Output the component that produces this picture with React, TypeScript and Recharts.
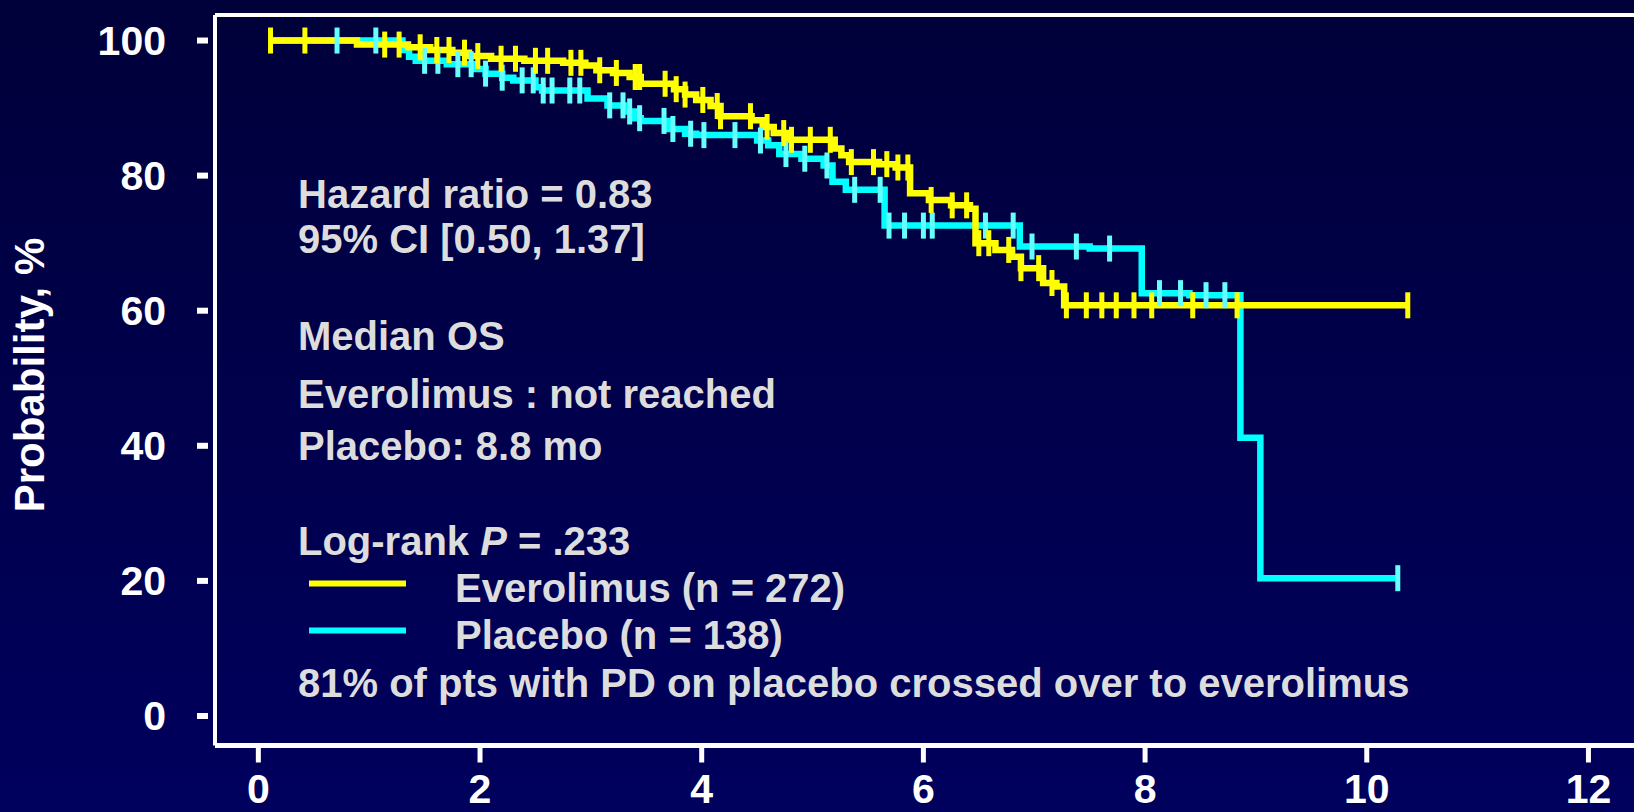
import React from 'react';
import { ComposedChart, Line, Scatter, XAxis, YAxis } from 'recharts';

const monthTicks = [0, 2, 4, 6, 8, 10, 12];
const probTicks = [0, 20, 40, 60, 80, 100];

// Kaplan-Meier steps: [month, % alive]
const everolimusSteps = [
    [0.11, 100], [0.89, 99.4], [1.35, 99.0], [1.55, 98.6], [1.75, 98.2], [1.9, 97.7],
    [2.1, 97.3], [2.4, 97.0], [2.75, 96.7], [2.95, 96.3], [3.05, 95.6], [3.2, 95.2],
    [3.35, 94.6], [3.45, 93.6], [3.75, 92.8], [3.85, 92.0], [3.95, 91.2], [4.08, 90.3],
    [4.17, 88.8], [4.45, 88.2], [4.55, 87.2], [4.65, 86.3], [4.78, 85.3], [5.2, 84.0],
    [5.26, 83.0], [5.33, 82.0], [5.6, 81.7], [5.75, 81.2], [5.88, 77.4], [6.05, 76.4],
    [6.25, 75.6], [6.42, 75.1], [6.47, 70.0], [6.65, 69.0], [6.8, 68.0], [6.88, 66.3],
    [7.08, 64.1], [7.2, 63.6], [7.27, 60.8], [10.37, 60.8]
];

const placeboSteps = [
    [0.11, 100], [1.3, 98.6], [1.36, 97.6], [1.42, 97.0], [1.7, 96.5], [1.95, 95.8],
    [2.05, 95.1], [2.2, 94.5], [2.3, 94.1], [2.5, 93.1], [2.56, 92.6], [2.97, 91.4],
    [3.15, 90.4], [3.3, 89.5], [3.4, 88.5], [3.45, 88.1], [3.7, 86.9], [3.85, 86.2],
    [3.95, 86.0], [4.5, 85.2], [4.6, 84.5], [4.7, 83.2], [4.9, 82.5], [5.1, 81.5],
    [5.18, 79.1], [5.3, 77.9], [5.65, 72.6], [6.87, 69.5], [7.5, 69.2], [7.97, 62.6],
    [8.4, 62.3], [8.86, 41.2], [9.04, 20.4], [10.28, 20.4]
];

// censored patients (months)
const everolimusCensored = [
    0.11, 0.42, 1.14, 1.27, 1.46, 1.61, 1.72, 1.86, 1.98, 2.19, 2.32, 2.5, 2.61, 2.82,
    2.91, 3.08, 3.23, 3.4, 3.44, 3.67, 3.77, 3.85, 4.01, 4.14, 4.17, 4.44, 4.59, 4.74,
    4.81, 4.98, 5.16, 5.35, 5.55, 5.67, 5.77, 5.86, 6.07, 6.26, 6.39, 6.5, 6.59, 6.77,
    6.88, 7.04, 7.16, 7.29, 7.47, 7.61, 7.74, 7.9, 8.06, 8.43, 8.83, 10.37
];

const placeboCensored = [
    0.71, 1.06, 1.5, 1.62, 1.8, 1.92, 2.05, 2.2, 2.38, 2.48, 2.57, 2.65, 2.81, 2.9,
    3.17, 3.29, 3.35, 3.44, 3.66, 3.74, 3.9, 4.02, 4.3, 4.53, 4.76, 4.93, 5.13, 5.38,
    5.61, 5.69, 5.83, 6.0, 6.08, 6.56, 6.81, 6.98, 7.38, 7.68, 8.13, 8.32, 8.55, 8.72, 10.28
];

const X_MIN = -0.391;
const X_MAX = 12.826;
const Y_MIN = -4.37;
const Y_MAX = 103.78;

const YELLOW = '#ffff00';
const CYAN = '#00ffff';
const TEXT = '#dddddd';
const FONT = '"Liberation Sans", Arial, sans-serif';

const toPoints = (steps: number[][]) => steps.map(([t, s]) => ({ t, s }));

// value of the step curve at time t
const survAt = (steps: number[][], t: number) => {
    let s = steps[0][1];
    for (const [time, v] of steps) {
        if (time <= t + 1e-9) s = v;
    }
    return s;
};

const censorPoints = (times: number[], steps: number[][]) =>
    times.map(t => ({ t, s: survAt(steps, t) }));

const censorMark = (color: string) => (props: any) => {
    const { cx, cy } = props;
    return <rect x={cx - 2.5} y={cy - 13} width={5} height={26} fill={color} />;
};

const YTick = (props: any) => {
    const { x, y, payload } = props;
    return (
        <g>
            <line x1={x} x2={x + 11} y1={y} y2={y} stroke="#fff" strokeWidth={6} />
            <text x={x - 31} y={y + 14} textAnchor="end" fill="#fff" fontSize={41} fontWeight="bold" fontFamily={FONT}>
                {payload.value}
            </text>
        </g>
    );
};

const XTick = (props: any) => {
    const { x, y, payload } = props;
    return (
        <text x={x} y={y + 40.5} textAnchor="middle" fill="#fff" fontSize={41} fontWeight="bold" fontFamily={FONT}>
            {payload.value}
        </text>
    );
};

export default function App() {
    const textProps = { fill: TEXT, fontSize: 40, fontWeight: 'bold' as const, fontFamily: FONT };

    return (
        <div style={{
            position: 'fixed', left: 0, top: 0, width: 1634, height: 812, overflow: 'hidden',
            background: 'linear-gradient(#00003a, #00005e)'
        }}>
            <ComposedChart width={1680} height={812} margin={{ top: 0, right: 0, bottom: 0, left: 0 }}>
                <XAxis xAxisId="top" orientation="top" type="number" domain={[X_MIN, X_MAX]} allowDataOverflow
                    height={15} tick={false} tickLine={false} axisLine={{ stroke: '#fff', strokeWidth: 4 }} />
                <XAxis dataKey="t" type="number" domain={[X_MIN, X_MAX]} allowDataOverflow ticks={monthTicks}
                    height={66.5} tickSize={17} tickMargin={0} interval={0}
                    axisLine={{ stroke: '#fff', strokeWidth: 5 }} tickLine={{ stroke: '#fff', strokeWidth: 5 }}
                    tick={<XTick />} />
                <YAxis dataKey="s" type="number" domain={[Y_MIN, Y_MAX]} allowDataOverflow ticks={probTicks}
                    width={215} tickSize={18} tickMargin={0} interval={0}
                    axisLine={{ stroke: '#fff', strokeWidth: 4 }} tickLine={false} tick={<YTick />} />

                <Line data={toPoints(placeboSteps)} dataKey="s" type="stepAfter" stroke={CYAN} strokeWidth={6.5}
                    dot={false} activeDot={false} isAnimationActive={false} />
                <Line data={toPoints(everolimusSteps)} dataKey="s" type="stepAfter" stroke={YELLOW} strokeWidth={6.5}
                    dot={false} activeDot={false} isAnimationActive={false} />
                <Scatter data={censorPoints(placeboCensored, placeboSteps)} dataKey="s"
                    shape={censorMark('#66ffff')} isAnimationActive={false} />
                <Scatter data={censorPoints(everolimusCensored, everolimusSteps)} dataKey="s"
                    shape={censorMark(YELLOW)} isAnimationActive={false} />

                <g>
                    <text x={44} y={375} transform="rotate(-90, 44, 375)" textAnchor="middle" fill="#fff"
                        fontSize={42} fontWeight="bold" fontFamily={FONT}>Probability, %</text>

                    <text x={298} y={208} {...textProps}>Hazard ratio = 0.83</text>
                    <text x={298} y={253} {...textProps}>95% CI [0.50, 1.37]</text>
                    <text x={298} y={350} {...textProps}>Median OS</text>
                    <text x={298} y={408} {...textProps}>Everolimus : not reached</text>
                    <text x={298} y={460} {...textProps}>Placebo: 8.8 mo</text>
                    <text x={298} y={555} {...textProps}>
                        Log-rank <tspan fontStyle="italic">P</tspan> = .233
                    </text>
                    <line x1={309} x2={406} y1={583.5} y2={583.5} stroke={YELLOW} strokeWidth={6} />
                    <text x={455} y={602} {...textProps}>Everolimus (n = 272)</text>
                    <line x1={309} x2={406} y1={630.5} y2={630.5} stroke={CYAN} strokeWidth={6} />
                    <text x={455} y={649} {...textProps}>Placebo (n = 138)</text>
                    <text x={298} y={697} {...textProps}>81% of pts with PD on placebo crossed over to everolimus</text>
                </g>
            </ComposedChart>
        </div>
    );
}
